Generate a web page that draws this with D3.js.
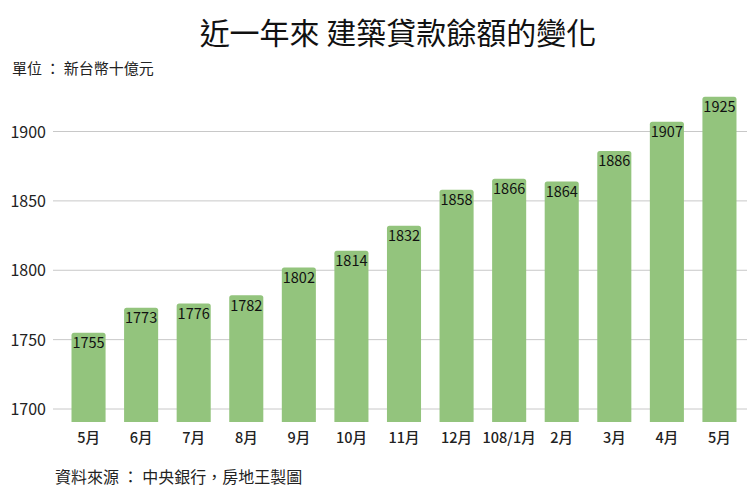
<!DOCTYPE html>
<html><head><meta charset="utf-8">
<script src="https://cdn.jsdelivr.net/npm/d3@7"></script>
<style>body{margin:0;background:#fff}svg{display:block}text{font-family:"Noto Sans CJK TC","Noto Sans",sans-serif}</style>
</head><body>
<script>
const categories = ["5月","6月","7月","8月","9月","10月","11月","12月","108/1月","2月","3月","4月","5月"];
const values = [1755,1773,1776,1782,1802,1814,1832,1858,1866,1864,1886,1907,1925];
const yTicks = [1700,1750,1800,1850,1900];
const title = "近一年來 建築貸款餘額的變化";
const unitLabel = "單位 ： 新台幣十億元";
const sourceLabel = "資料來源 ： 中央銀行，房地王製圖";

const W = 751, H = 502;
const svg = d3.select("body").append("svg").attr("width", W).attr("height", H);

const x = d3.scaleBand().domain(categories.map((c,i)=>i)).range([53,755]).paddingInner(0.352).paddingOuter(0.352);
const y = d3.scaleLinear().domain([1700,1900]).range([409,131.5]);
const base = y(1690.6);

svg.append("text").attr("x",398).attr("y",44).attr("text-anchor","middle")
  .attr("font-size",30).attr("font-weight",400).attr("fill","#111").text(title);
svg.append("text").attr("x",12).attr("y",74).attr("font-size",15).attr("fill","#222").text(unitLabel);

const grid = svg.append("g");
grid.selectAll("line").data(yTicks).join("line")
  .attr("x1",53).attr("x2",747).attr("y1",d=>y(d)).attr("y2",d=>y(d))
  .attr("stroke","#c8c8c8").attr("stroke-width",1);
svg.append("g").selectAll("text").data(yTicks).join("text")
  .attr("x",46).attr("y",d=>y(d)+6).attr("text-anchor","end")
  .attr("font-family","'Liberation Sans',Arial,sans-serif")
  .attr("font-size",16).attr("fill","#222").text(d=>d);

const bars = svg.append("g");
bars.selectAll("path").data(values).join("path")
  .attr("fill","#93c47d")
  .attr("d",(d,i)=>{
    const x0 = x(i), w = x.bandwidth(), t = y(d), r = 2.5;
    return `M${x0},${base}V${t+r}Q${x0},${t} ${x0+r},${t}H${x0+w-r}Q${x0+w},${t} ${x0+w},${t+r}V${base}Z`;
  });
bars.selectAll("text").data(values).join("text")
  .attr("x",(d,i)=>x(i)+x.bandwidth()/2).attr("y",d=>y(d)+15.5)
  .attr("text-anchor","middle").attr("font-family","Roboto,sans-serif")
  .attr("font-size",14.5).attr("fill","#111").text(d=>d);

svg.append("g").selectAll("text").data(categories).join("text")
  .attr("x",(d,i)=>x(i)+x.bandwidth()/2).attr("y",443)
  .attr("text-anchor","middle").attr("font-size",14.5).attr("font-weight",500).attr("fill","#222").text(d=>d);

svg.append("text").attr("x",55).attr("y",483).attr("font-size",16).attr("fill","#222").text(sourceLabel);
</script>
</body></html>
